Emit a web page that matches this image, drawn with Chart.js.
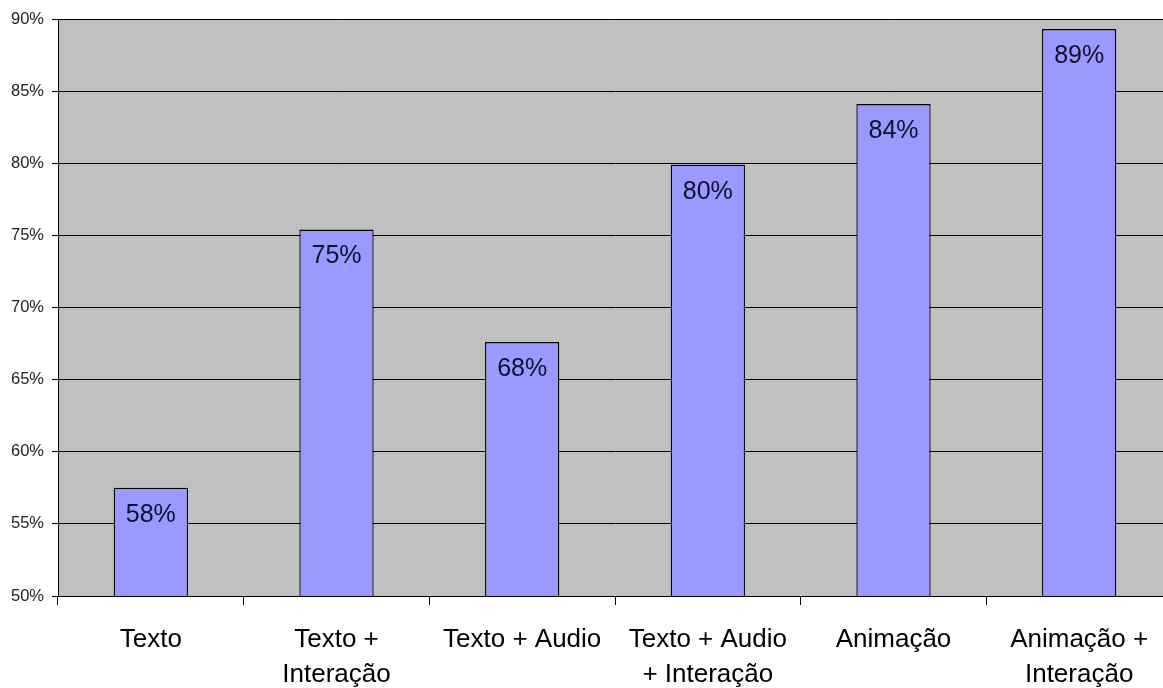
<!DOCTYPE html>
<html>
<head>
<meta charset="utf-8">
<script src="https://cdn.jsdelivr.net/npm/chart.js@4"></script>
<style>
  html, body { margin:0; padding:0; background:#fff; overflow:hidden; }
  #wrap { width:1172px; height:688px; position:relative; }
</style>
</head>
<body>
<div id="wrap"><canvas id="grafico"></canvas></div>
<script>
var categorias = [
  'Texto',
  ['Texto +', 'Interação'],
  'Texto + Audio',
  ['Texto + Audio', '+ Interação'],
  'Animação',
  ['Animação +', 'Interação']
];
var valores = [57.5, 75.4, 67.6, 79.9, 84.1, 89.3];
var rotulos = ['58%', '75%', '68%', '80%', '84%', '89%'];
var eixoMin = 50;
var eixoMax = 90;
var passo = 5;

// fundo cinza da area do grafico
var fundoPlugin = {
  id: 'fundo',
  beforeDraw: function(chart){
    var a = chart.chartArea;
    var ctx = chart.ctx;
    ctx.save();
    ctx.fillStyle = '#c0c0c0';
    ctx.fillRect(a.left, a.top, a.right - a.left, a.bottom - a.top);
    ctx.strokeStyle = '#808080';
    ctx.lineWidth = 1;
    ctx.beginPath();
    ctx.moveTo(a.left, a.top + 0.5);
    ctx.lineTo(a.right, a.top + 0.5);
    ctx.stroke();
    ctx.restore();
  }
};

// rotulos dentro das barras
var rotuloPlugin = {
  id: 'rotulos',
  afterDatasetsDraw: function(chart){
    var ctx = chart.ctx;
    var meta = chart.getDatasetMeta(0);
    ctx.save();
    ctx.font = '25px "Liberation Sans", Arial, sans-serif';
    ctx.fillStyle = '#10102a';
    ctx.textAlign = 'center';
    ctx.textBaseline = 'middle';
    meta.data.forEach(function(bar, i){
      ctx.fillText(rotulos[i], bar.x, bar.y + 27);
    });
    ctx.restore();
  }
};

var ctx = document.getElementById('grafico').getContext('2d');
var grafico = new Chart(ctx, {
  type: 'bar',
  data: {
    labels: categorias,
    datasets: [{
      data: valores,
      backgroundColor: '#9999ff',
      borderColor: '#000000',
      borderWidth: 1.3,
      borderSkipped: false,
      categoryPercentage: 1,
      barPercentage: 0.4
    }]
  },
  options: {
    responsive: true,
    maintainAspectRatio: false,
    animation: false,
    layout: { padding: { top: 19, left: 0, right: 0, bottom: 0 } },
    plugins: { legend: { display: false }, tooltip: { enabled: false } },
    scales: {
      x: {
        grid: { display: true, drawOnChartArea: false, offset: true, color: '#000', tickLength: 9 },
        border: { color: '#000', width: 1 },
        ticks: {
          color: '#000',
          padding: 17,
          maxRotation: 0,
          autoSkip: false,
          font: { family: '"Liberation Sans", Arial, sans-serif', size: 26, lineHeight: 1.35 }
        },
        afterFit: function(s){ s.height = 688 - 596; }
      },
      y: {
        min: eixoMin,
        max: eixoMax,
        grid: { color: '#000', tickLength: 6, drawOnChartArea: true },
        border: { color: '#000', width: 1 },
        ticks: {
          stepSize: passo,
          color: '#222',
          padding: 8,
          font: { family: '"Liberation Sans", Arial, sans-serif', size: 16.5 },
          callback: function(v){ return v + '%'; }
        },
        afterFit: function(s){ s.width = 58; }
      }
    }
  },
  plugins: [fundoPlugin, rotuloPlugin]
});
</script>
</body>
</html>
